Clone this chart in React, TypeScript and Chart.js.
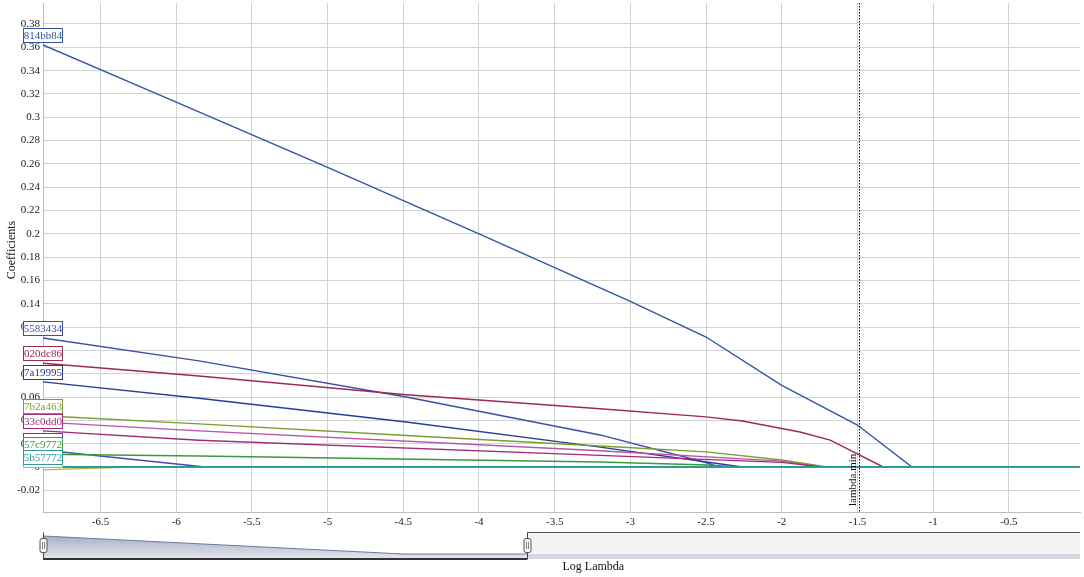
import React, { useEffect, useRef } from 'react';
import { Chart, registerables } from 'chart.js';

Chart.register(...registerables);

const FONT = '"Liberation Serif", "Times New Roman", serif';

// Axis ranges and ticks
const X_MIN = -6.88;
const X_MAX = -0.03;
const Y_MIN = -0.0386;
const Y_MAX = 0.398;
const xTickValues = [-6.5, -6, -5.5, -5, -4.5, -4, -3.5, -3, -2.5, -2, -1.5, -1, -0.5];
const yTickValues = [-0.02, 0, 0.02, 0.04, 0.06, 0.08, 0.1, 0.12, 0.14, 0.16, 0.18, 0.2, 0.22, 0.24, 0.26, 0.28, 0.3, 0.32, 0.34, 0.36, 0.38];
const lambdaMin = -1.49;
const navigatorWindow = [-6.88, -3.68];

// Series (listed in label drawing order)
const seriesIds = ['814bb84', '5583434', '020dc86', '7a19995', 'd8a1f3e', '7b2a463', '33c0dd0', '1c92254', '57c9772', 'e3b9c10', '5b57772'];
const seriesColors = ['#2f55a4', '#3b4ea8', '#9c2a52', '#2a3c94', '#b554a8', '#7a9e2e', '#a02a7a', '#5046a8', '#3c9a3c', '#b5bd3a', '#2e9a9a'];

const x814bb84 = [-6.88, -6, -5, -4, -3, -2.5, -2, -1.5, -1.14, -0.03];
const y814bb84 = [0.362, 0.313, 0.257, 0.2, 0.142, 0.1115, 0.070, 0.036, 0, 0];
const x5583434 = [-6.88, -5.85, -4.48, -3.2, -2.49, -2.42, -0.03];
const y5583434 = [0.1106, 0.091, 0.060, 0.0275, 0.0034, 0, 0];
const x020dc86 = [-6.88, -5.85, -4.48, -3.2, -2.5, -2.26, -1.88, -1.68, -1.33, -0.03];
const y020dc86 = [0.089, 0.078, 0.062, 0.050, 0.043, 0.0395, 0.030, 0.023, 0, 0];
const x7a19995 = [-6.88, -5.85, -4.48, -3.2, -2.26, -0.03];
const y7a19995 = [0.073, 0.059, 0.0386, 0.017, 0, 0];
const xd8a1f3e = [-6.88, -5.85, -3.2, -2.0, -1.73, -0.03];
const yd8a1f3e = [0.0385, 0.031, 0.014, 0.005, 0, 0];
const x7b2a463 = [-6.88, -5.85, -4.48, -3.2, -2.5, -2.0, -1.7, -0.03];
const y7b2a463 = [0.044, 0.037, 0.027, 0.018, 0.013, 0.006, 0, 0];
const x33c0dd0 = [-6.88, -5.85, -3.2, -2.0, -1.73, -0.03];
const y33c0dd0 = [0.031, 0.023, 0.010, 0.004, 0, 0];
const x1c92254 = [-6.88, -5.81, -0.03];
const y1c92254 = [0.0146, 0, 0];
const x57c9772 = [-6.88, -5.85, -3.2, -2.49, -2.28, -0.03];
const y57c9772 = [0.011, 0.0094, 0.0043, 0.0017, 0, 0];
const xe3b9c10 = [-6.88, -6.3, -0.03];
const ye3b9c10 = [-0.0025, 0, 0];
const x5b57772 = [-6.88, -0.03];
const y5b57772 = [0, 0];

const seriesX = [x814bb84, x5583434, x020dc86, x7a19995, xd8a1f3e, x7b2a463, x33c0dd0, x1c92254, x57c9772, xe3b9c10, x5b57772];
const seriesY = [y814bb84, y5583434, y020dc86, y7a19995, yd8a1f3e, y7b2a463, y33c0dd0, y1c92254, y57c9772, ye3b9c10, y5b57772];

function fmt(v: number) {
  const s = parseFloat(v.toFixed(2)).toString();
  return s === '-0' ? '0' : s;
}

const overlayPlugin = {
  id: 'overlay',
  afterDraw(chart: any) {
    const { ctx, chartArea } = chart;
    const xs = chart.scales.x;
    const ys = chart.scales.y;
    ctx.save();

    // lambda.min dotted line
    const lx = Math.round(xs.getPixelForValue(lambdaMin)) + 0.5;
    ctx.strokeStyle = '#000';
    ctx.lineWidth = 1;
    ctx.setLineDash([1.5, 1.5]);
    ctx.beginPath();
    ctx.moveTo(lx, chartArea.top);
    ctx.lineTo(lx, chartArea.bottom);
    ctx.stroke();
    ctx.setLineDash([]);
    ctx.save();
    ctx.translate(lx - 6, chartArea.bottom - 6);
    ctx.rotate(-Math.PI / 2);
    ctx.fillStyle = '#111';
    ctx.font = `11px ${FONT}`;
    ctx.textAlign = 'left';
    ctx.textBaseline = 'middle';
    ctx.fillText('lambda.min', 0, 0);
    ctx.restore();

    // series labels at the left edge
    ctx.font = `11px ${FONT}`;
    ctx.textAlign = 'center';
    ctx.textBaseline = 'middle';
    for (let i = 0; i < seriesIds.length; i++) {
      const px = xs.getPixelForValue(seriesX[i][0]);
      const py = ys.getPixelForValue(seriesY[i][0]) - 10;
      const w = 39, h = 14;
      const bx = Math.round(px - 20) + 0.5;
      const by = Math.round(py - h / 2) + 0.5;
      ctx.fillStyle = '#ffffff';
      ctx.fillRect(bx, by, w, h);
      ctx.save();
      ctx.beginPath();
      ctx.rect(bx, by, w, h);
      ctx.clip();
      ctx.fillStyle = seriesColors[i];
      ctx.fillText(seriesIds[i], bx + w / 2, by + h / 2 + 0.5);
      ctx.restore();
      ctx.strokeStyle = seriesColors[i];
      ctx.lineWidth = 1;
      ctx.strokeRect(bx, by, w, h);
    }

    // axis titles
    ctx.fillStyle = '#111';
    ctx.font = `12px ${FONT}`;
    ctx.save();
    ctx.translate(12, 250);
    ctx.rotate(-Math.PI / 2);
    ctx.textAlign = 'center';
    ctx.textBaseline = 'middle';
    ctx.fillText('Coefficients', 0, 0);
    ctx.restore();
    ctx.textAlign = 'left';
    ctx.textBaseline = 'middle';
    ctx.fillText('Log Lambda', (chartArea.left + chartArea.right) / 2 + 1, 567);

    // navigator
    const navTop = 532.5, navBottom = 559, bandTop = 554;
    const x0 = xs.getPixelForValue(navigatorWindow[0]);
    const x1 = xs.getPixelForValue(navigatorWindow[1]);
    const xr = chartArea.right;
    ctx.fillStyle = '#f3f3f3';
    ctx.fillRect(x1, navTop, xr - x1, bandTop - navTop);
    ctx.fillStyle = '#d3d8e2';
    ctx.fillRect(x1, bandTop, xr - x1, navBottom - bandTop);
    ctx.strokeStyle = '#555';
    ctx.lineWidth = 1;
    ctx.beginPath();
    ctx.moveTo(x1, navTop);
    ctx.lineTo(xr, navTop);
    ctx.stroke();

    const xm = xs.getPixelForValue(-4.5);
    const grad = ctx.createLinearGradient(0, 536, 0, navBottom);
    grad.addColorStop(0, '#a7b0c5');
    grad.addColorStop(1, '#e4e7ee');
    ctx.fillStyle = grad;
    ctx.beginPath();
    ctx.moveTo(x0, 536);
    ctx.lineTo(xm, 554);
    ctx.lineTo(x1, 554);
    ctx.lineTo(x1, navBottom);
    ctx.lineTo(x0, navBottom);
    ctx.closePath();
    ctx.fill();
    ctx.strokeStyle = '#6d7ba0';
    ctx.lineWidth = 1.2;
    ctx.beginPath();
    ctx.moveTo(x0, 536);
    ctx.lineTo(xm, 554);
    ctx.lineTo(x1, 554);
    ctx.stroke();

    ctx.strokeStyle = '#333';
    ctx.lineWidth = 2;
    ctx.beginPath();
    ctx.moveTo(x0, navBottom);
    ctx.lineTo(x1, navBottom);
    ctx.stroke();
    ctx.lineWidth = 1;
    ctx.strokeStyle = '#444';
    ctx.beginPath();
    ctx.moveTo(Math.round(x0) + 0.5, navTop);
    ctx.lineTo(Math.round(x0) + 0.5, navBottom);
    ctx.moveTo(Math.round(x1) + 0.5, navTop);
    ctx.lineTo(Math.round(x1) + 0.5, navBottom);
    ctx.stroke();

    for (const hx of [x0, x1]) {
      const cx = Math.round(hx) + 0.5;
      ctx.fillStyle = '#f4f4f4';
      ctx.strokeStyle = '#555';
      ctx.lineWidth = 1;
      ctx.beginPath();
      (ctx as any).roundRect(cx - 3.5, 538.5, 7, 14, 2);
      ctx.fill();
      ctx.stroke();
      ctx.beginPath();
      ctx.moveTo(cx - 1, 542);
      ctx.lineTo(cx - 1, 549);
      ctx.moveTo(cx + 1, 542);
      ctx.lineTo(cx + 1, 549);
      ctx.strokeStyle = '#888';
      ctx.stroke();
    }

    ctx.restore();
  },
};

export default function App() {
  const canvasRef = useRef<HTMLCanvasElement | null>(null);

  useEffect(() => {
    const canvas = canvasRef.current;
    if (!canvas) return;
    const datasets = seriesIds.map((id, i) => ({
      label: id,
      data: seriesX[i].map((x, j) => ({ x, y: seriesY[i][j] })),
      borderColor: seriesColors[i],
      backgroundColor: seriesColors[i],
      borderWidth: id === '5b57772' ? 2 : 1.4,
      pointRadius: 0,
      tension: 0,
      fill: false,
      order: id === '5b57772' ? 0 : seriesIds.length - i,
    }));

    const chart = new Chart(canvas, {
      type: 'line',
      data: { datasets },
      plugins: [overlayPlugin],
      options: {
        animation: false,
        responsive: false,
        maintainAspectRatio: false,
        layout: { padding: { top: 3, right: 4, bottom: 0, left: 0 } },
        plugins: {
          legend: { display: false },
          tooltip: { enabled: false },
          title: { display: false },
        },
        scales: {
          x: {
            type: 'linear',
            min: X_MIN,
            max: X_MAX,
            afterBuildTicks: (scale: any) => {
              scale.ticks = xTickValues.map((v) => ({ value: v }));
            },
            afterFit: (scale: any) => {
              scale.height = 65;
              scale.paddingLeft = 0;
              scale.paddingRight = 0;
            },
            grid: { color: '#d2d2d2', lineWidth: 1, drawTicks: false },
            border: { display: true, color: '#bdbdbd', width: 1 },
            ticks: {
              padding: 4,
              color: '#222',
              font: { family: FONT, size: 11 },
              maxRotation: 0,
              autoSkip: false,
              callback: (v: any) => fmt(Number(v)),
            },
          },
          y: {
            type: 'linear',
            min: Y_MIN,
            max: Y_MAX,
            afterBuildTicks: (scale: any) => {
              scale.ticks = yTickValues.map((v) => ({ value: v }));
            },
            afterFit: (scale: any) => {
              scale.width = 43;
              scale.paddingTop = 0;
              scale.paddingBottom = 0;
            },
            grid: { color: '#d2d2d2', lineWidth: 1, drawTicks: false },
            border: { display: true, color: '#bdbdbd', width: 1 },
            ticks: {
              padding: 3,
              color: '#222',
              font: { family: FONT, size: 11 },
              autoSkip: false,
              callback: (v: any) => fmt(Number(v)),
            },
          },
        },
      },
    } as any);

    return () => {
      chart.destroy();
    };
  }, []);

  return (
    <div style={{ position: 'absolute', left: 0, top: 0, width: 1084, height: 577, background: '#fff' }}>
      <canvas ref={canvasRef} width={1084} height={577} style={{ width: 1084, height: 577, display: 'block' }} />
    </div>
  );
}
